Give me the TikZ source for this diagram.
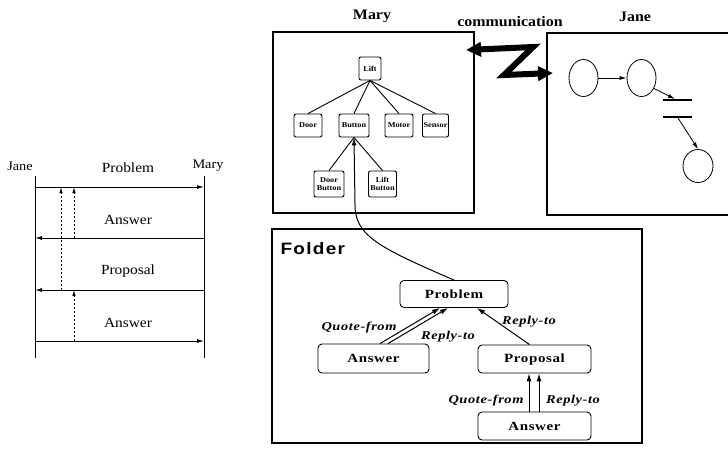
\documentclass[tikz,border=0pt]{standalone}
\usepackage{fontspec}
\setmainfont{Liberation Serif}[FakeStretch=1.1]
\newfontfamily\foldfont{Liberation Serif}[FakeStretch=1.2,LetterSpace=5]
\newfontfamily\sansbold{Liberation Sans}[FakeStretch=1.15,LetterSpace=8]
\usetikzlibrary{arrows.meta,shapes.geometric,calc}
\begin{document}
\begin{tikzpicture}[x=1pt,y=-1pt,
  lbl/.style={font=\fontsize{13}{15}\selectfont},
  ttl/.style={font=\bfseries\fontsize{14.5}{17}\selectfont},
  msg/.style={font=\fontsize{14}{16}\selectfont},
  life/.style={line width=0.9pt},
  marr/.style={line width=0.9pt,-{Latex[length=7pt,width=4pt]}},
  darr/.style={line width=0.9pt,dash pattern=on 2.5pt off 1.5pt,-{Latex[length=6pt,width=3.5pt]}},
  tbox/.style={draw,rounded corners=2pt,line width=0.9pt,inner sep=0.5pt,align=center,font=\bfseries\fontsize{7.5}{8}\selectfont},
  tedge/.style={line width=0.9pt},
  fbox/.style={draw,rounded corners=4pt,line width=0.9pt,inner sep=0pt,font=\foldfont\bfseries\fontsize{12.5}{14}\selectfont},
  farr/.style={line width=1pt,-{Latex[length=8pt,width=5pt]}},
  rel/.style={font=\foldfont\bfseries\itshape\fontsize{12}{14}\selectfont},
  place/.style={draw,ellipse,inner sep=0pt,minimum width=29pt,minimum height=37pt,line width=0.8pt},
  parr/.style={line width=0.8pt,-{Latex[length=7pt,width=4pt]}},
  framebox/.style={draw,line width=1.1pt,inner sep=0pt}
]
\useasboundingbox (0,0) rectangle (728,448);

% ---------- left: message sequence ----------
\node[lbl] (janeL) at (20,166) {Jane};
\node[lbl] (maryL) at (208,166) {Mary};
\coordinate (j0) at (35,176); \coordinate (j1) at (35,358);
\coordinate (m0) at (204,176); \coordinate (m1) at (204,358);
\draw[life] (j0) -- (j1);
\draw[life] (m0) -- (m1);
\coordinate (ja) at (35,187);  \coordinate (ma) at (204,187);
\coordinate (jb) at (35,238);  \coordinate (mb) at (204,238);
\coordinate (jc) at (35,290);  \coordinate (mc) at (204,290);
\coordinate (jd) at (35,341);  \coordinate (md) at (204,341);
\draw[marr] (ja) -- (ma);
\draw[marr] (mb) -- (jb);
\draw[marr] (mc) -- (jc);
\draw[marr] (jd) -- (md);
\node[msg] (mProblem) at (128,168) {Problem};
\node[msg] (mAnswer1) at (128,220) {Answer};
\node[msg] (mProposal) at (128,271) {Proposal};
\node[msg] (mAnswer2) at (128,323) {Answer};
\coordinate (d1s) at (61,290); \coordinate (d1e) at (61,187);
\coordinate (d2s) at (74,238); \coordinate (d2e) at (74,187);
\coordinate (d3s) at (74,341); \coordinate (d3e) at (74,290);
\draw[darr] (d1s) -- (d1e);
\draw[darr] (d2s) -- (d2e);
\draw[darr] (d3s) -- (d3e);

% ---------- Mary box ----------
\node[ttl] (maryT) at (372,16) {Mary};
\node[framebox,minimum width=201pt,minimum height=181pt] (marybox) at (373.5,122.5) {};
\node[tbox,minimum width=22pt,minimum height=23pt] (lift) at (370,68.5) {Lift};
\node[tbox,minimum width=28pt,minimum height=23pt] (door) at (308,125.5) {Door};
\node[tbox,minimum width=30pt,minimum height=23pt] (button) at (354,125.5) {Button};
\node[tbox,minimum width=28pt,minimum height=23pt] (motor) at (399,125.5) {Motor};
\node[tbox,minimum width=26pt,minimum height=23pt] (sensor) at (435.5,125.5) {Sensor};
\node[tbox,minimum width=30pt,minimum height=26pt] (doorbtn) at (329,184) {Door\\Button};
\node[tbox,minimum width=28pt,minimum height=26pt] (liftbtn) at (382.5,184) {Lift\\Button};
\draw[tedge] (lift.south) -- (door.north);
\draw[tedge] (lift.south) -- (button.north);
\draw[tedge] (lift.south) -- (motor.north);
\draw[tedge] (lift.south) -- (sensor.north);
\draw[tedge] (doorbtn.north) -- (button.south);
\draw[tedge] (liftbtn.north) -- (button.south);

% ---------- communication ----------
\node[ttl] (commT) at (510,22) {communication};
\coordinate (c0) at (466,50);
\coordinate (c1) at (533,47);
\coordinate (c2) at (504,75);
\coordinate (c3) at (553,73);
\draw[line width=6pt,{Triangle[length=15pt,width=14pt]}-{Triangle[length=15pt,width=14pt]}] (c0) -- (c1) -- (c2) -- (c3);

% ---------- Jane box ----------
\node[ttl] (janeT) at (635,17) {Jane};
\coordinate (jb1) at (729,33); \coordinate (jb2) at (547,33);
\coordinate (jb3) at (547,215); \coordinate (jb4) at (729,215);
\draw[line width=1.1pt] (jb1) -- (jb2) -- (jb3) -- (jb4);
\node[place] (p1) at (583.5,78) {};
\node[place] (p2) at (641.5,78) {};
\node[place,minimum width=30pt,minimum height=33pt] (p3) at (698,166) {};
\coordinate (t1a) at (663,100); \coordinate (t1b) at (692,100);
\coordinate (t2a) at (663,117); \coordinate (t2b) at (692,117);
\draw[line width=2pt] (t1a) -- (t1b);
\draw[line width=2pt] (t2a) -- (t2b);
\coordinate (tin) at (675,99);
\coordinate (tout) at (678,118);
\draw[parr] (p1) -- (p2);
\draw[parr] (p2.-40) -- (tin);
\draw[parr] (tout) -- (p3.north);

% ---------- Folder ----------
\node[framebox,minimum width=370pt,minimum height=214pt] (folder) at (457,336) {};
\node[font=\sansbold\bfseries\fontsize{16.5}{18}\selectfont,anchor=west] (folderT) at (277,249) {Folder};
\node[fbox,minimum width=108pt,minimum height=27pt] (prob) at (454,294) {Problem};
\node[fbox,minimum width=111pt,minimum height=29pt] (ans1) at (373.5,358.5) {Answer};
\node[fbox,minimum width=113pt,minimum height=28pt] (prop) at (534.5,359) {Proposal};
\node[fbox,minimum width=113pt,minimum height=28pt] (ans2) at (534.5,426) {Answer};
\draw[farr] ($(ans1.north)+(6.5,0)$) -- ($(prob.south)+(-14,0)$);
\draw[farr] ($(ans1.north)+(14.5,0)$) -- ($(prob.south)+(-6,0)$);
\draw[farr] ($(prop.north)+(-5,0)$) -- ($(prob.south)+(23,0)$);
\draw[farr] ($(ans2.north)+(-5.5,0)$) -- ($(prop.south)+(-5.5,0)$);
\draw[farr] ($(ans2.north)+(4.5,0)$) -- ($(prop.south)+(4.5,0)$);
\node[rel] (q1) at (359,328) {Quote-from};
\node[rel] (r1) at (448,337) {Reply-to};
\node[rel] (r2) at (529,322) {Reply-to};
\node[rel] (q2) at (486,401) {Quote-from};
\node[rel] (r3) at (573,401) {Reply-to};
\draw[farr] (prob.north) .. controls (380,248) and (355,236) .. (355,205) -- (button.south);
\end{tikzpicture}
\end{document}
